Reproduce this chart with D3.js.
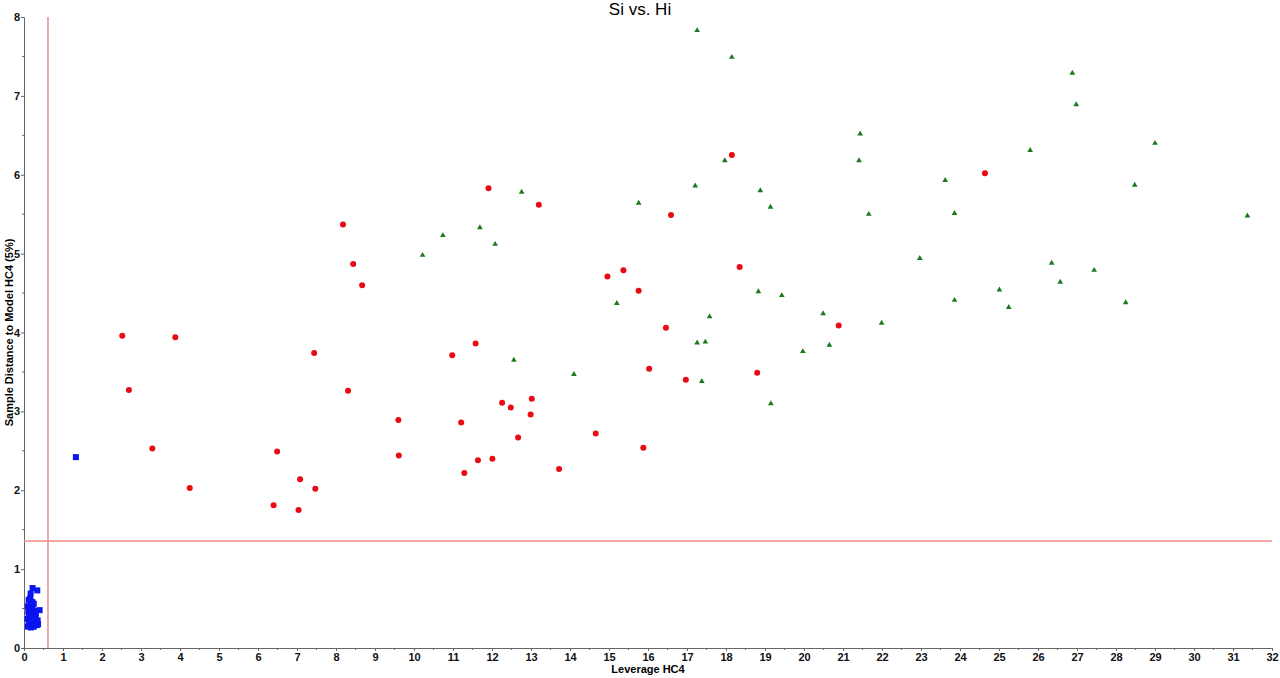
<!DOCTYPE html>
<html>
<head>
<meta charset="utf-8">
<script src="https://cdn.jsdelivr.net/npm/d3@7"></script>
<style>
  body { margin: 0; background: #fff; }
  text { font-family: "Liberation Sans", Arial, sans-serif; }
</style>
</head>
<body>
<div id="chart"></div>
<script>
// Datos: leverage (x) y distancia al modelo (y)
const rojoX = [2.52, 2.69, 3.29, 3.88, 4.25, 6.40, 6.49, 7.08, 7.04, 7.44, 7.47, 8.18, 8.31, 8.44, 8.67,
  9.60, 9.61, 10.98, 11.21, 11.29, 11.58, 11.64, 11.91, 12.01, 12.26, 12.48, 12.67, 13.02, 12.99, 13.20,
  13.72, 14.66, 14.96, 15.37, 15.76, 15.88, 16.03, 16.46, 16.59, 16.97, 18.15, 18.35, 18.80, 20.89, 24.64];
const rojoY = [3.96, 3.27, 2.53, 3.94, 2.03, 1.81, 2.49, 2.14, 1.75, 3.74, 2.02, 5.37, 3.26, 4.87, 4.60,
  2.89, 2.44, 3.71, 2.86, 2.22, 3.86, 2.38, 5.83, 2.40, 3.11, 3.05, 2.67, 3.16, 2.96, 5.62,
  2.27, 2.72, 4.71, 4.79, 4.53, 2.54, 3.54, 4.06, 5.49, 3.40, 6.25, 4.83, 3.49, 4.09, 6.02];

const verdeX = [10.22, 10.74, 11.69, 12.08, 12.56, 12.76, 14.10, 15.20, 15.76, 17.21, 17.26, 17.26, 17.38,
  17.47, 17.58, 17.97, 18.15, 18.83, 18.88, 19.14, 19.15, 19.43, 19.97, 20.49, 20.65, 21.41, 21.44, 21.66,
  21.99, 22.97, 23.62, 23.86, 23.86, 25.01, 25.25, 25.80, 26.35, 26.57, 26.88, 26.98, 27.44, 28.25, 28.48,
  29.00, 31.37];
const verdeY = [4.98, 5.23, 5.33, 5.12, 3.65, 5.78, 3.47, 4.37, 5.64, 5.86, 7.83, 3.87, 3.38,
  3.88, 4.20, 6.18, 7.49, 4.52, 5.80, 5.59, 3.10, 4.47, 3.76, 4.24, 3.84, 6.18, 6.52, 5.50,
  4.12, 4.94, 5.93, 5.51, 4.41, 4.54, 4.32, 6.31, 4.88, 4.64, 7.29, 6.89, 4.79, 4.38, 5.87,
  6.40, 5.48];

const azulX = [1.33, 0.22, 0.34, 0.17, 0.12, 0.18, 0.25, 0.10, 0.15, 0.22, 0.28, 0.40, 0.13, 0.20, 0.30, 0.09,
  0.16, 0.24, 0.35, 0.12, 0.19, 0.27, 0.33, 0.10, 0.18, 0.25, 0.14, 0.22, 0.30, 0.11, 0.20, 0.36, 0.16];
const azulY = [2.42, 0.76, 0.73, 0.69, 0.61, 0.59, 0.56, 0.53, 0.50, 0.52, 0.47, 0.48, 0.44, 0.42, 0.40, 0.37,
  0.35, 0.36, 0.35, 0.31, 0.30, 0.32, 0.29, 0.27, 0.26, 0.27, 0.40, 0.58, 0.44, 0.46, 0.33, 0.30, 0.63];

// Límites (líneas rojas)
const limiteX = 0.615;
const limiteY = 1.355;

const ticksX = d3.range(0, 33, 1);
const ticksY = d3.range(0, 9, 1);

const ancho = 1280;
const alto = 678;
const margen = { top: 17, right: 8, bottom: 30, left: 24 };

const svg = d3.select("#chart")
  .append("svg")
  .attr("width", ancho)
  .attr("height", alto);

const escalaX = d3.scaleLinear()
  .domain([0, 32])
  .range([margen.left, ancho - margen.right]);

const escalaY = d3.scaleLinear()
  .domain([0, 8])
  .range([alto - margen.bottom, margen.top]);

// Ejes
const ejeX = svg.append("g")
  .attr("transform", `translate(0,${alto - margen.bottom})`)
  .call(d3.axisBottom(escalaX).tickValues(ticksX).tickSize(3).tickSizeOuter(0).tickFormat(d3.format("d")));

const ejeY = svg.append("g")
  .attr("transform", `translate(${margen.left},0)`)
  .call(d3.axisLeft(escalaY).tickValues(ticksY).tickSize(3).tickSizeOuter(0).tickFormat(d3.format("d")));

// Ticks menores
ejeX.call(g => g.selectAll(".menor").data(d3.range(0.5, 32, 1)).enter().append("line")
  .attr("x1", d => escalaX(d)).attr("x2", d => escalaX(d))
  .attr("y1", 0).attr("y2", 2).attr("stroke", "#666"));
ejeY.call(g => g.selectAll(".menor").data(d3.range(0.5, 8, 1)).enter().append("line")
  .attr("y1", d => escalaY(d)).attr("y2", d => escalaY(d))
  .attr("x1", 0).attr("x2", -2).attr("stroke", "#666"));

[ejeX, ejeY].forEach(g => {
  g.select(".domain").attr("stroke", "#666");
  g.selectAll(".tick line").attr("stroke", "#666");
  g.selectAll(".tick text")
    .attr("fill", "#111")
    .style("font-size", "11px")
    .style("font-weight", "bold")
    .style("font-family", "'Liberation Sans', Arial, sans-serif");
});
ejeX.selectAll(".tick text").attr("dy", "0.6em");
ejeY.selectAll(".tick text").attr("x", -4);

// Líneas de límite
svg.append("line")
  .attr("x1", escalaX(limiteX)).attr("x2", escalaX(limiteX))
  .attr("y1", escalaY(8)).attr("y2", escalaY(0))
  .attr("stroke", "#f08a8a").attr("stroke-width", 1.5);

svg.append("line")
  .attr("x1", escalaX(0)).attr("x2", escalaX(32))
  .attr("y1", escalaY(limiteY)).attr("y2", escalaY(limiteY))
  .attr("stroke", "#f08a8a").attr("stroke-width", 1.5);

// Puntos
const rojos = rojoX.map((x, i) => ({ x: x, y: rojoY[i] }));
const verdes = verdeX.map((x, i) => ({ x: x, y: verdeY[i] }));
const azules = azulX.map((x, i) => ({ x: x, y: azulY[i] }));

svg.append("g").selectAll("rect")
  .data(azules)
  .enter()
  .append("rect")
  .attr("x", d => escalaX(d.x) - 3)
  .attr("y", d => escalaY(d.y) - 3)
  .attr("width", 6)
  .attr("height", 6)
  .attr("fill", "#0a14f0");

svg.append("g").selectAll("circle")
  .data(rojos)
  .enter()
  .append("circle")
  .attr("cx", d => escalaX(d.x))
  .attr("cy", d => escalaY(d.y))
  .attr("r", 3)
  .attr("fill", "#ea0a14");

const triangulo = d3.symbol().type(d3.symbolTriangle).size(14);
svg.append("g").selectAll("path")
  .data(verdes)
  .enter()
  .append("path")
  .attr("d", triangulo)
  .attr("transform", d => `translate(${escalaX(d.x)},${escalaY(d.y)})`)
  .attr("fill", "#1b7a1b");

// Títulos
svg.append("text")
  .attr("x", ancho / 2)
  .attr("y", 15)
  .attr("text-anchor", "middle")
  .style("font-size", "17px")
  .text("Si vs. Hi");

svg.append("text")
  .attr("x", (margen.left + ancho - margen.right) / 2)
  .attr("y", 673)
  .attr("text-anchor", "middle")
  .style("font-size", "11px")
  .style("font-weight", "bold")
  .text("Leverage HC4");

svg.append("text")
  .attr("transform", `translate(9,${(margen.top + alto - margen.bottom) / 2}) rotate(-90)`)
  .attr("text-anchor", "middle")
  .attr("dy", "0.35em")
  .style("font-size", "11px")
  .style("font-weight", "bold")
  .text("Sample Distance to Model  HC4 (5%)");
</script>
</body>
</html>
